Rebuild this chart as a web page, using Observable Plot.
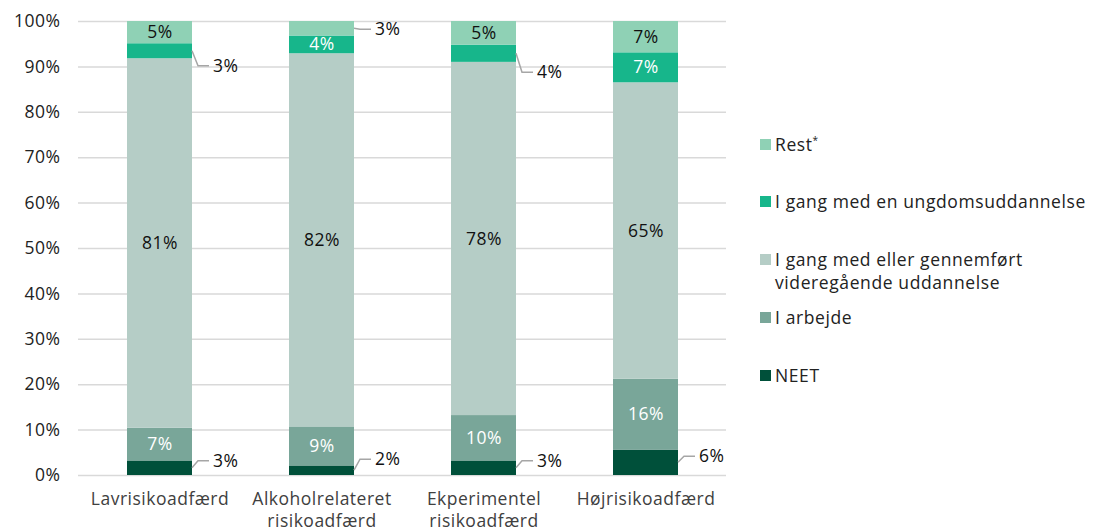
<!DOCTYPE html>
<html><head><meta charset="utf-8">
<script src="https://cdn.jsdelivr.net/npm/d3@7"></script>
<script src="https://cdn.jsdelivr.net/npm/@observablehq/plot@0.6"></script>
<style>
body{margin:0;background:#fff;font-family:"Open Sans", Lato, sans-serif;}
#wrap{position:relative;width:1098px;height:531px;overflow:hidden}
#chart{position:absolute;left:0;top:0}
#legend{position:absolute;left:760px;top:0;width:338px;height:531px}
.item{position:absolute;left:0;display:flex;align-items:flex-start;font-size:17.5px;color:#222;line-height:23px;letter-spacing:0.6px;white-space:nowrap}
.sw{width:11px;height:11px;margin-top:6px;margin-right:4px;flex:none}
sup{font-size:10px;vertical-align:top;line-height:14px}
</style></head>
<body>
<div id="wrap"><div id="chart"></div><div id="legend"></div></div>
<script>
const categories = ["Lavrisikoadfærd", "Alkoholrelateret risikoadfærd", "Ekperimentel risikoadfærd", "Højrisikoadfærd"];
const categoryLabels = ["Lavrisikoadfærd", "Alkoholrelateret\nrisikoadfærd", "Ekperimentel\nrisikoadfærd", "Højrisikoadfærd"];
const series = ["NEET", "I arbejde", "I gang med eller gennemført videregående uddannelse", "I gang med en ungdomsuddannelse", "Rest*"];
const neet = [3.2, 2.1, 3.2, 5.6];
const arbejde = [7.2, 8.6, 10.0, 15.6];
const videregaaende = [81.4, 82.2, 77.8, 65.3];
const ungdom = [3.3, 3.9, 3.8, 6.6];
const rest = [4.9, 3.2, 5.2, 6.9];
const yTicks = [0, 10, 20, 30, 40, 50, 60, 70, 80, 90, 100];

const seriesValues = [neet, arbejde, videregaaende, ungdom, rest];
const colors = ["#00503a", "#79a699", "#b5cdc6", "#17b68b", "#8fd1b5"];
const labelColors = ["#111", "#fff", "#111", "#fff", "#111"];

// callouts: category index, series index, vertical offset of label (px)
const callouts = [
  {c: 0, s: 0, dy: -7}, {c: 1, s: 0, dy: -11}, {c: 2, s: 0, dy: -7}, {c: 3, s: 0, dy: -6},
  {c: 0, s: 3, dy: 15}, {c: 2, s: 3, dy: 19}, {c: 1, s: 4, dy: 1}
];
const isCallout = (c, s) => callouts.some(o => o.c === c && o.s === s);

const rows = [];
categories.forEach((cat, ci) => {
  let acc = 0;
  series.forEach((s, si) => {
    const v = seriesValues[si][ci];
    rows.push({cat, ci, series: s, si, value: v, y1: acc, y2: acc + v,
      label: Math.round(v) + "%", inside: !isCallout(ci, si)});
    acc += v;
  });
});

function calloutMark(index, scales, values, dims, context) {
  const x = scales.x.bandwidth ? scales.x : scales.scales.x;
  const y = scales.y;
  const g = d3.create("svg:g");
  for (const o of callouts) {
    const r = rows.find(d => d.ci === o.c && d.si === o.s);
    const x0 = x(r.cat) + x.bandwidth();
    const ym = y((r.y1 + r.y2) / 2);
    const yl = ym + o.dy;
    g.append("path").attr("d", `M${x0},${ym}L${x0 + 6},${yl}H${x0 + 17}`)
      .attr("fill", "none").attr("stroke", "#a6a6a6").attr("stroke-width", 1.5);
    g.append("text").attr("x", x0 + 21).attr("y", yl).attr("dy", "0.35em")
      .attr("text-anchor", "start")
      .attr("fill", "#111").attr("font-size", 17.5).text(r.label);
  }
  return g.node();
}

const chart = Plot.plot({
  width: 738, height: 531,
  marginLeft: 78, marginRight: 12, marginTop: 21, marginBottom: 56,
  style: {fontFamily: "'Open Sans', Lato, sans-serif", fontSize: "17.5px", background: "#fff", letterSpacing: "0.5px"},
  x: {domain: categories, paddingInner: 0.6, paddingOuter: 0.3, label: null},
  y: {domain: [0, 100], label: null},
  color: {domain: series, range: colors},
  marks: [
    Plot.gridY(yTicks, {stroke: "#d9d9d9", strokeOpacity: 1, strokeWidth: 1.5}),
    Plot.axisY(yTicks, {tickSize: 0, tickPadding: 18, tickFormat: d => d + "%", fontSize: 17.5, fill: "#222", label: null}),
    Plot.axisX({tickSize: 0, tickPadding: 13, tickFormat: d => categoryLabels[categories.indexOf(d)], fontSize: 17.5, fill: "#404040", lineHeight: 1.3, label: null}),
    Plot.barY(rows, Plot.stackY({x: "cat", y: "value", fill: "series", order: series})),
    Plot.text(rows, Plot.stackY({x: "cat", y: "value", z: "series", order: series,
      text: d => d.inside ? d.label : "", fill: d => labelColors[d.si], fontSize: 17.5})),
    calloutMark
  ]
});
document.getElementById("chart").appendChild(chart);

// legend
const legendOrder = [4, 3, 2, 1, 0];
const legendTops = [133, 190, 248, 306, 364];
const legend = document.getElementById("legend");
legendOrder.forEach((si, i) => {
  const item = document.createElement("div");
  item.className = "item";
  item.style.top = legendTops[i] + "px";
  const sw = document.createElement("div");
  sw.className = "sw";
  sw.style.background = colors[si];
  item.appendChild(sw);
  const t = document.createElement("div");
  const name = series[si];
  if (name.endsWith("*")) {
    t.textContent = name.slice(0, -1);
    const sup = document.createElement("sup"); sup.textContent = "*"; t.appendChild(sup);
  } else if (si === 2) {
    t.innerHTML = "I gang med eller gennemført<br>videregående uddannelse";
  } else t.textContent = name;
  item.appendChild(t);
  legend.appendChild(item);
});
</script>
</body></html>
